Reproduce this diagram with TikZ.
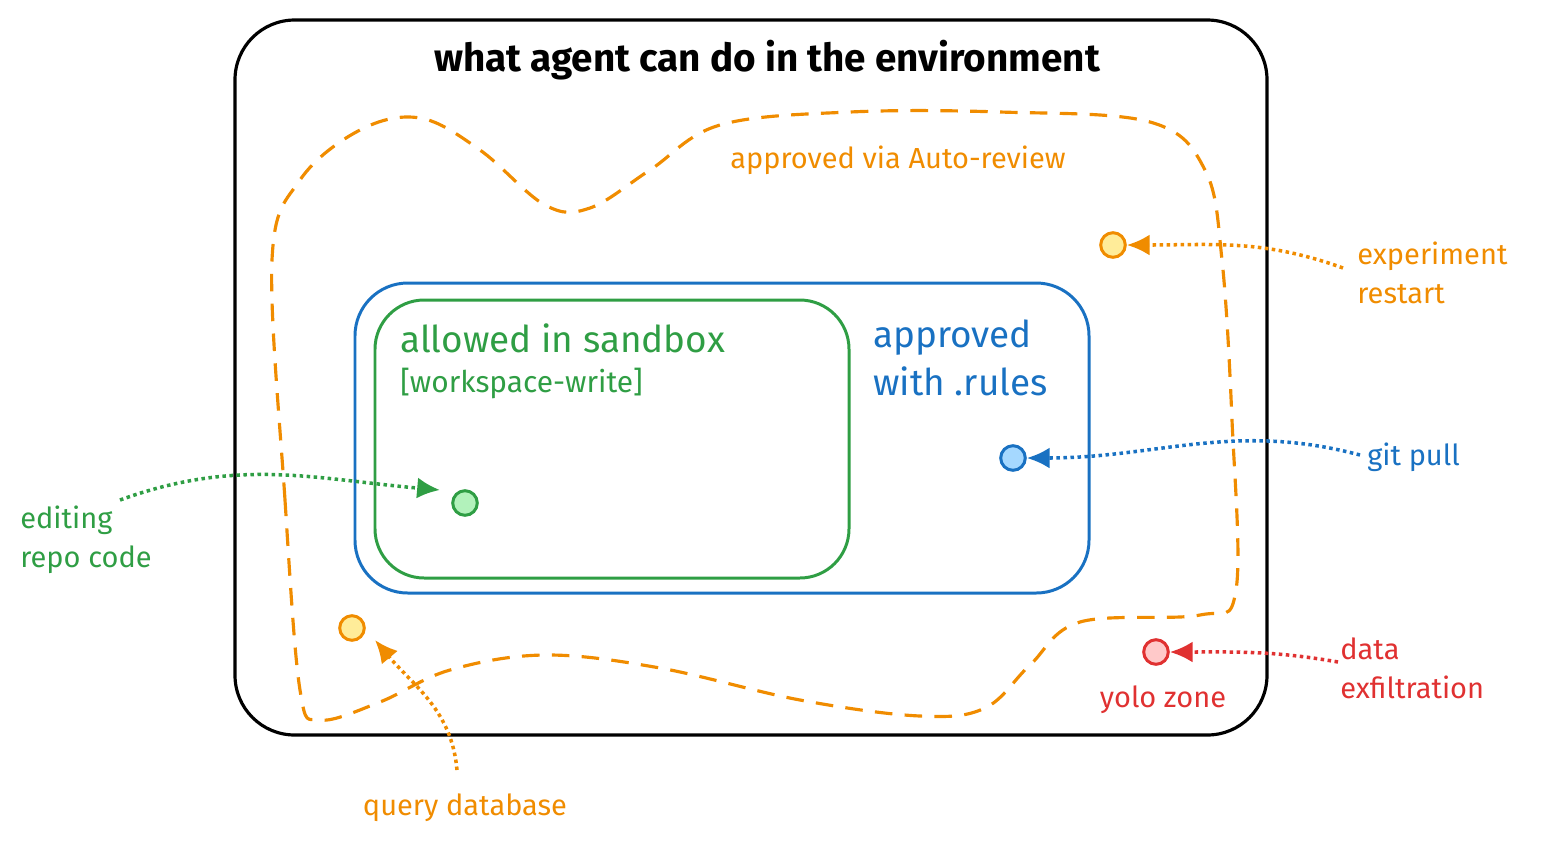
\documentclass[tikz,border=0pt]{standalone}
\usepackage{fontspec}
\setmainfont{Fira Sans}
\usetikzlibrary{arrows.meta}
\definecolor{myorange}{HTML}{F08C00}
\definecolor{myblue}{HTML}{1971C2}
\definecolor{mygreen}{HTML}{2F9E44}
\definecolor{myred}{HTML}{E03131}
\definecolor{fillyellow}{HTML}{FFEC99}
\definecolor{fillblue}{HTML}{A5D8FF}
\definecolor{fillgreen}{HTML}{B2F2BB}
\definecolor{fillred}{HTML}{FFC9C9}
\tikzset{
  dot/.style={circle,draw=#1,line width=1.7pt,minimum size=14pt,inner sep=0pt},
  pointer/.style={draw=#1,dotted,line width=2pt,-{Latex[length=13pt,width=12pt]}},
  lbl/.style={text=#1,align=left,anchor=west,font=\fontsize{16.5}{22}\selectfont,inner sep=0pt}
}
\begin{document}
\begin{tikzpicture}[x=0.02cm,y=-0.02cm]
\useasboundingbox (0,0) rectangle (1546,850);
% boxes
\draw[line width=1.8pt,rounded corners=34pt] (235,20) rectangle (1267,735);
\node[font=\fontsize{22}{26}\selectfont\bfseries] (title) at (767,60) {what agent can do in the environment};
\draw[myblue,line width=1.7pt,rounded corners=30pt] (355,283) rectangle (1089,593);
\draw[mygreen,line width=1.7pt,rounded corners=28pt] (375,300) rectangle (849,578);
\node[lbl=mygreen,font=\fontsize{21}{25}\selectfont] (sandbox) at (400,338) {allowed in sandbox};
\node[lbl=mygreen,font=\fontsize{17}{21}\selectfont] (write) at (400,383) {[workspace-write]};
\node[lbl=myblue,font=\fontsize{21}{27}\selectfont] (rules) at (873,358) {approved\\with .rules};
% auto-review zone
\draw[myorange,dashed,dash pattern=on 10pt off 7pt,line width=1.8pt] plot[smooth cycle,tension=0.6] coordinates {
  (300,690) (285,500) (272,260) (300,180) (360,130) (420,118) (480,150) (545,205) (590,208)
  (650,170) (720,125) (850,112) (1000,112) (1150,122) (1205,170) (1222,260) (1232,420)
  (1236,590) (1200,615) (1080,622) (1030,665) (985,708) (920,716) (800,700) (660,668)
  (545,655) (450,670) (380,702) (320,720)};
\node[lbl=myorange] (auto) at (730,160) {approved via Auto-review};
% actions
\node[dot=myorange,fill=fillyellow] (restart) at (1113,245) {};
\node[dot=myblue,fill=fillblue] (pull) at (1013,458) {};
\node[dot=mygreen,fill=fillgreen] (edit) at (465,503) {};
\node[dot=myorange,fill=fillyellow] (query) at (352,628) {};
\node[dot=myred,fill=fillred] (exfil) at (1156,652) {};
\node[lbl=myorange] (restartlbl) at (1357,273) {experiment\\restart};
\node[lbl=myblue] (pulllbl) at (1367,457) {git pull};
\node[lbl=mygreen] (editlbl) at (20,540) {editing\\repo code};
\node[lbl=myorange,anchor=center] (querylbl) at (465,808) {query database};
\node[lbl=myred] (exfillbl) at (1340,668) {data\\exfiltration};
\node[lbl=myred,anchor=center] (yolo) at (1163,700) {yolo zone};
% pointers
\draw[pointer=myorange] (1343,268) to[out=160,in=0] (restart);
\draw[pointer=myblue] (1360,455) to[out=165,in=0] (pull);
\draw[pointer=mygreen] (120,500) to[out=20,in=175] (440,490);
\draw[pointer=myorange] (457,770) to[out=95,in=-50] (375,640);
\draw[pointer=myred] (1338,662) to[out=170,in=0] (exfil);
\end{tikzpicture}
\end{document}
